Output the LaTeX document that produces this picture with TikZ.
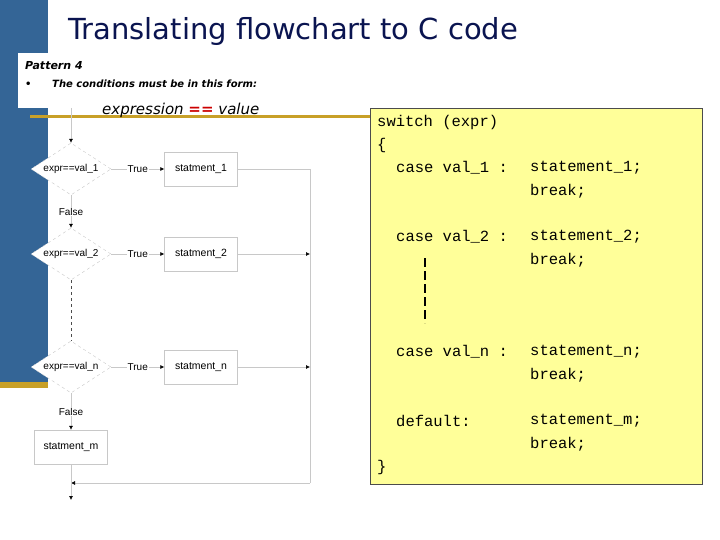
\documentclass[tikz,border=0pt]{standalone}
\usepackage{fontspec}
\setmainfont{DejaVu Sans}
\newfontfamily\arialf{Liberation Sans}
\newfontfamily\courf{Liberation Mono}
\usetikzlibrary{shapes.geometric,arrows.meta}
\definecolor{barblue}{RGB}{52,101,150}
\definecolor{gold}{RGB}{200,160,40}
\definecolor{navy}{RGB}{10,20,80}
\definecolor{codey}{RGB}{255,255,153}
\definecolor{lg}{RGB}{200,200,200}
\begin{document}
\begin{tikzpicture}[x=1pt,y=-1pt,
 dia/.style={diamond,draw=lg,dashed,fill=white,minimum width=80,minimum height=52,inner sep=0,aspect=1.6,font=\arialf\fontsize{10}{11}\selectfont},
 bx/.style={draw=lg,fill=white,minimum width=73,minimum height=34,font=\arialf\fontsize{10.5}{11}\selectfont},
 fl/.style={draw=lg,line width=0.6pt},
 arr/.style={fl,-{Latex[black,length=4pt,width=4pt]}},
 lbl/.style={font=\arialf\fontsize{10}{11}\selectfont,fill=white,inner sep=1pt},
 code/.style={anchor=west,font=\courf\fontsize{15.5}{17}\selectfont,inner sep=0}]
\useasboundingbox (0,0) rectangle (720,540);
\fill[white] (0,0) rectangle (720,540);
\fill[barblue] (0,0) rectangle (48,382);
\fill[gold] (0,382) rectangle (48,388);
\fill[white] (18,53) rectangle (360,108);
\draw[gold,line width=3pt] (30,117) -- (702,117);
\node[anchor=west,text=navy,font=\fontsize{29}{32}\selectfont,inner sep=0] (title) at (68,32) {Translating flowchart to C code};
\node[anchor=west,font=\bfseries\itshape\fontsize{11}{13}\selectfont,inner sep=0] (pat) at (25,66) {Pattern 4};
\node[anchor=west,font=\bfseries\itshape\fontsize{10}{12}\selectfont,inner sep=0] (cond) at (25,84) {\makebox[27pt][l]{\textbullet}The conditions must be in this form:};
\node[anchor=west,font=\itshape\fontsize{15}{17}\selectfont,inner sep=0] (expr) at (102,110) {expression \textcolor{red!80!black}{\textbf{==}} value};
% flowchart
\coordinate (top) at (71,108);
\node[dia] (d1) at (71,169) {expr==val\_1};
\node[dia] (d2) at (71,254) {expr==val\_2};
\node[dia] (dn) at (71,367) {expr==val\_n};
\node[bx] (s1) at (201,169) {statment\_1};
\node[bx] (s2) at (201,254) {statment\_2};
\node[bx] (sn) at (201,367) {statment\_n};
\node[bx] (sm) at (71,447) {statment\_m};
\coordinate (r1) at (310,169);
\coordinate (r2) at (310,254);
\coordinate (rn) at (310,367);
\coordinate (rb) at (310,483);
\coordinate (jb) at (71,483);
\coordinate (out) at (71,500);
\draw[arr] (top) -- (d1);
\draw[arr] (d1) -- node[lbl]{True} (s1);
\draw[arr] (d2) -- node[lbl]{True} (s2);
\draw[arr] (dn) -- node[lbl]{True} (sn);
\draw[arr] (d1) -- node[lbl]{False} (d2);
\draw[arr] (dn) -- node[lbl]{False} (sm);
\draw[fl,dashed,draw=black!70] (d2.south) -- (dn.north);
\draw[fl] (s1) -- (r1) -- (rb);
\draw[arr] (s2) -- (r2);
\draw[arr] (sn) -- (rn);
\draw[arr] (rb) -- (jb);
\draw[arr] (sm) -- (out);
% code
\node[draw=black!70,fill=codey,minimum width=332,minimum height=376,anchor=north west,inner sep=0] (codebox) at (370,108) {};
\node[code] (c1) at (377,122) {switch (expr)};
\node[code] (c2) at (377,145) {\{};
\node[code] (c3) at (396,168) {case val\_1 :};
\node[code] (c4) at (530,168) {statement\_1;};
\node[code] (c5) at (530,191) {break;};
\node[code] (c6) at (396,237) {case val\_2 :};
\node[code] (c7) at (530,237) {statement\_2;};
\node[code] (c8) at (530,260) {break;};
\node[code] (c9) at (396,352) {case val\_n :};
\node[code] (c10) at (530,352) {statement\_n;};
\node[code] (c11) at (530,375) {break;};
\node[code] (c12) at (396,421) {default:};
\node[code] (c13) at (530,421) {statement\_m;};
\node[code] (c14) at (530,444) {break;};
\node[code] (c15) at (377,467) {\}};
\coordinate (da) at (425,258);
\coordinate (db) at (425,323);
\draw[black,line width=2.5pt,dash pattern=on 9pt off 4pt] (da) -- (db);
\end{tikzpicture}
\end{document}
